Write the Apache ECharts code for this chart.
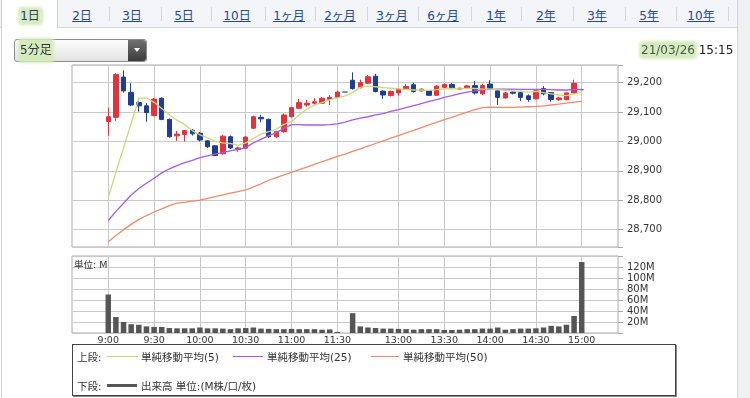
<!DOCTYPE html>
<html>
<head>
<meta charset="utf-8">
<script src="https://cdn.jsdelivr.net/npm/echarts@6/dist/echarts.min.js"></script>
<style>
body { margin: 0; width: 750px; height: 398px; overflow: hidden; position: relative; background: #fff;
  font-family: "DejaVu Sans", "Noto Sans CJK JP", sans-serif; color: #333; }
#side { position: absolute; left: 737px; top: 0; width: 13px; height: 398px; background: #eef0f2; border-left: 1px solid #d4d7db; }
#tabbar { position: absolute; left: 0; top: 0; width: 737px; height: 27px; background: #f3f5f8; border-bottom: 1px solid #cfd3d8; }
#active { position: absolute; left: 1px; top: 0; width: 55px; height: 28px; background: #fff; border-left: 1px solid #cfd3d8; border-right: 1px solid #cfd3d8; }
#leftline { position: absolute; left: 1px; top: 27px; width: 1px; height: 371px; background: #cfd3d8; }
.tab { position: absolute; top: 6px; font-size: 12px; color: #23479a; text-decoration: underline; transform: translateX(-50%); white-space: nowrap; }
.tab.on { color: #2b3a55; text-decoration: none; }
.sep { position: absolute; top: 7px; width: 1px; height: 14px; background: #d3d6db; }
.hl { background: #d5ebbf; box-shadow: 0 0 3px 2px #d5ebbf; border-radius: 2px; }
#chart { position: absolute; left: 0; top: 0; width: 750px; height: 398px; }
#sel { position: absolute; left: 14px; top: 39px; width: 131px; height: 21px; border: 1px solid #8e8e8e; border-radius: 3px;
  background: linear-gradient(#fdfdfd, #e2e2e2); font-size: 12px; line-height: 21px; }
#sel span { position: absolute; left: 5px; top: 0; }
#btn { position: absolute; right: 0; top: 0; width: 18px; height: 21px; background: linear-gradient(#707070, #3c3c3c); border-radius: 0 3px 3px 0; }
#btn:after { content: ""; position: absolute; left: 6px; top: 8px; border-left: 3px solid transparent; border-right: 3px solid transparent; border-top: 4px solid #fff; }
#date { position: absolute; left: 641px; top: 43px; font-size: 12px; color: #222; white-space: nowrap; }
#date .hl { color: #4a5a4a; }
#unit { position: absolute; left: 74px; top: 257px; font-size: 9.5px; color: #333; }
#legend { position: absolute; left: 72px; top: 344px; width: 602px; height: 50px; border: 1px solid #444; box-shadow: 1px 1px 0 #888;
  font-size: 10.5px; color: #333; background: #fff; }
.row { position: absolute; left: 4px; white-space: nowrap; }
.row span { position: absolute; top: 0; }
.ln { position: absolute; height: 0; }
</style>
</head>
<body>
<div id="tabbar"></div>
<div id="active"></div>
<div id="leftline"></div>
<div id="side"></div>
<div id="tabs"></div>
<div id="chart"></div>
<div id="sel"><span class="hl">5分足</span><div id="btn"></div></div>
<div id="date"><span class="hl">21/03/26</span> 15:15</div>
<div id="unit">単位: M</div>
<div id="legend">
  <div class="row" style="top:4px">
    <span style="left:0">上段:</span>
    <div class="ln" style="left:30px;top:7px;width:31px;border-top:1.5px solid #c9da74"></div>
    <span style="left:64px">単純移動平均(5)</span>
    <div class="ln" style="left:156px;top:7px;width:30px;border-top:1.5px solid #a85ae8"></div>
    <span style="left:190px">単純移動平均(25)</span>
    <div class="ln" style="left:294px;top:7px;width:28px;border-top:1.5px solid #f08a6c"></div>
    <span style="left:326px">単純移動平均(50)</span>
  </div>
  <div class="row" style="top:33px">
    <span style="left:0">下段:</span>
    <div class="ln" style="left:30px;top:6px;width:30px;border-top:3px solid #555"></div>
    <span style="left:64px">出来高 単位:(M株/口/枚)</span>
  </div>
</div>
<script>
// 期間タブ
const tabLabels = ['1日', '2日', '3日', '5日', '10日', '1ヶ月', '2ヶ月', '3ヶ月', '6ヶ月', '1年', '2年', '3年', '5年', '10年'];
const tabX = [30, 82, 132, 184, 237, 289, 340, 392, 443, 496, 546, 597, 649, 701];
const sepX = [109, 161, 211, 265, 315, 367, 418, 471, 521, 573, 625, 676, 728];

// 5分足 (slot 31 = 前場引け後の空き枠)
const open = [29068, 29082, 29219, 29167, 29132, 29121, 29088, 29147, 29075, 29019, 29024, 29038, 29028, 29002, 28985, 28958,
  29016, 28972, 28977, 29045, 29082, 29075, 29016, 29033, 29084, 29113, 29124, 29130, 29130, 29143, 29150, 29168,
  29208, 29184, 29198, 29222, 29171, 29156, 29165, 29177, 29193, 29172, 29172, 29157, 29184, 29194, 29178, 29181,
  29190, 29162, 29195, 29172, 29148, 29168, 29166, 29155, 29145, 29180, 29166, 29142, 29142, 29165, 29176];
const close = [29084, 29228, 29172, 29124, 29121, 29098, 29144, 29075, 29016, 29025, 29037, 29026, 29005, 28982, 28952, 29018,
  28978, 28978, 29015, 29084, 29077, 29016, 29033, 29090, 29115, 29132, 29130, 29135, 29147, 29150, 29168, 29168,
  29180, 29200, 29220, 29170, 29158, 29170, 29178, 29187, 29170, 29178, 29157, 29188, 29194, 29181, 29181, 29189,
  29165, 29190, 29181, 29150, 29165, 29164, 29150, 29143, 29172, 29162, 29143, 29148, 29165, 29198, 29176];
const low = [29020, 29070, 29166, 29120, 29101, 29067, 29085, 29072, 29013, 29002, 29000, 29020, 29000, 28978, 28950, 28955,
  28974, 28965, 28975, 29042, 29065, 29012, 29012, 29030, 29082, 29110, 29118, 29124, 29128, 29124, 29148, 29168,
  29176, 29180, 29195, 29167, 29145, 29153, 29155, 29175, 29166, 29170, 29155, 29155, 29181, 29178, 29176, 29178,
  29160, 29158, 29177, 29125, 29145, 29160, 29138, 29135, 29143, 29157, 29135, 29138, 29140, 29162, 29176];
const high = [29115, 29232, 29242, 29198, 29141, 29130, 29148, 29150, 29078, 29036, 29039, 29042, 29032, 29005, 28988, 29022,
  29020, 28982, 29018, 29088, 29090, 29078, 29036, 29095, 29118, 29145, 29141, 29147, 29152, 29158, 29172, 29168,
  29235, 29210, 29226, 29230, 29175, 29173, 29181, 29195, 29200, 29180, 29175, 29192, 29197, 29198, 29183, 29192,
  29205, 29196, 29208, 29176, 29168, 29170, 29172, 29160, 29175, 29188, 29168, 29152, 29167, 29210, 29176];
const ma5 = [28810, 28895, 28978, 29062, 29146, 29148, 29133, 29112, 29091, 29072, 29058, 29037, 29022, 29012, 29000, 28995,
  28993, 28987, 28995, 29010, 29025, 29033, 29042, 29058, 29068, 29090, 29110, 29124, 29132, 29141, 29148, 29155,
  29166, 29184, 29188, 29186, 29183, 29181, 29179, 29177, 29175, 29175, 29174, 29176, 29179, 29180, 29179, 29180,
  29180, 29178, 29178, 29176, 29174, 29172, 29170, 29168, 29170, 29166, 29162, 29158, 29156, 29162, 29168];
const ma25 = [28731, 28762, 28790, 28818, 28840, 28858, 28875, 28893, 28907, 28918, 28928, 28936, 28945, 28951, 28957, 28963,
  28968, 28973, 28979, 28995, 29007, 29020, 29030, 29045, 29057, 29057, 29056, 29056, 29056, 29057, 29060, 29066,
  29073, 29079, 29084, 29090, 29095, 29102, 29108, 29115, 29122, 29129, 29136, 29142, 29150, 29156, 29163, 29168,
  29172, 29175, 29177, 29178, 29178, 29178, 29177, 29177, 29177, 29177, 29176, 29175, 29175, 29176, 29177];
const ma50 = [28659, 28680, 28700, 28718, 28735, 28748, 28760, 28771, 28782, 28790, 28793, 28797, 28800, 28806, 28812, 28818,
  28824, 28829, 28835, 28845, 28856, 28868, 28877, 28886, 28895, 28904, 28913, 28922, 28931, 28940, 28949, 28957,
  28966, 28975, 28984, 28993, 29002, 29011, 29020, 29029, 29038, 29047, 29056, 29065, 29074, 29082, 29091, 29100,
  29108, 29115, 29117, 29116, 29116, 29116, 29117, 29118, 29119, 29121, 29124, 29127, 29130, 29134, 29136];
const volume = [70, 29, 20, 16, 15, 12, 11, 11, 9, 8.5, 8.5, 8.5, 10, 8.5, 8.5, 8, 7, 8.5, 9, 10, 8, 7.5, 7, 7, 7.5, 7, 7, 7, 6, 6.5, 2, '-',
  36, 12, 10, 9, 8, 8, 7.5, 7, 6, 7, 7, 7, 5.5, 5.5, 6, 7, 7, 8, 8, 10, 6, 7, 8, 8, 8.5, 10, 13, 12, 15, 31, 129];

// 時間軸ラベル
const tickLabels = ['9:00', '9:30', '10:00', '10:30', '11:00', '11:30', '13:00', '13:30', '14:00', '14:30', '15:00'];
const tickSlots = [0, 6, 12, 18, 24, 30, 38, 44, 50, 56, 62];

const RED = '#e5303d', BLUE = '#1f3d92';

document.getElementById('tabs').innerHTML =
  tabLabels.map((t, i) => `<div class="tab${i === 0 ? ' on' : ''}" style="left:${tabX[i]}px">${i === 0 ? '<span class="hl">' + t + '</span>' : t}</div>`).join('') +
  sepX.map((x) => `<div class="sep" style="left:${x}px"></div>`).join('');

// 半スロット単位のカテゴリ軸 (前後に余白)
const PAD = 9, N = PAD * 2 + (open.length - 1) * 2 + 1;
const pos = (i) => PAD + i * 2;
const cats = new Array(N).fill('');
tickSlots.forEach((s, k) => { cats[pos(s)] = tickLabels[k]; });
const tickIdx = new Set(tickSlots.map(pos));
const spread = (arr) => {
  const out = new Array(N).fill('-');
  arr.forEach((v, i) => { out[pos(i)] = v; });
  return out;
};
const candle = new Array(N).fill(['-', '-', '-', '-']);
open.forEach((o, i) => { candle[pos(i)] = [o, close[i], low[i], high[i]]; });

const showTick = (idx) => tickIdx.has(idx);
const gridLine = { show: true, lineStyle: { color: '#c9c9c9', width: 1 } };

const chart = echarts.init(document.getElementById('chart'));
chart.setOption({
  animation: false,
  grid: [
    { left: 72, top: 65, width: 546, height: 182, show: true, borderColor: '#aaa', borderWidth: 1 },
    { left: 72, top: 256, width: 546, height: 77, show: true, borderColor: '#aaa', borderWidth: 1 }
  ],
  xAxis: [
    { type: 'category', gridIndex: 0, data: cats, boundaryGap: true,
      axisLine: { show: false }, axisTick: { show: false }, axisLabel: { show: false },
      splitLine: { ...gridLine, interval: showTick, alignWithLabel: true } },
    { type: 'category', gridIndex: 1, data: cats, boundaryGap: true,
      axisLine: { show: false }, axisTick: { show: false },
      axisLabel: { interval: showTick, fontSize: 9.5, color: '#333', margin: 3, fontFamily: 'DejaVu Sans' },
      splitLine: { ...gridLine, interval: showTick, alignWithLabel: true } }
  ],
  yAxis: [
    { type: 'value', gridIndex: 0, position: 'right', min: 28641, max: 29260, splitNumber: 6,
      axisLine: { show: false }, axisTick: { show: true, length: 5, lineStyle: { color: '#aaa' } },
      axisLabel: { margin: 9, fontSize: 10, color: '#333', fontFamily: 'DejaVu Sans',
        formatter: (v) => (v % 100 === 0 ? v.toLocaleString('en-US') : '') },
      splitLine: gridLine },
    { type: 'value', gridIndex: 1, position: 'right', min: 0, max: 140, interval: 20,
      axisLine: { show: false }, axisTick: { show: true, length: 5, lineStyle: { color: '#aaa' } },
      axisLabel: { margin: 9, fontSize: 10, color: '#333', fontFamily: 'DejaVu Sans',
        formatter: (v) => (v === 0 || v === 140 ? '' : v + 'M') },
      splitLine: gridLine }
  ],
  series: [
    { type: 'candlestick', xAxisIndex: 0, yAxisIndex: 0, barWidth: 5, data: candle,
      itemStyle: { color: RED, color0: BLUE, borderColor: RED, borderColor0: BLUE, borderColorDoji: '#4466bb', borderWidth: 1 } },
    { type: 'line', xAxisIndex: 0, yAxisIndex: 0, data: spread(ma50), connectNulls: true, symbol: 'none',
      lineStyle: { color: '#f08a6c', width: 1.3 } },
    { type: 'line', xAxisIndex: 0, yAxisIndex: 0, data: spread(ma25), connectNulls: true, symbol: 'none',
      lineStyle: { color: '#a85ae8', width: 1.3 } },
    { type: 'line', xAxisIndex: 0, yAxisIndex: 0, data: spread(ma5), connectNulls: true, symbol: 'none',
      lineStyle: { color: '#c9da74', width: 1.3 } },
    { type: 'bar', xAxisIndex: 1, yAxisIndex: 1, barWidth: 5.5, data: spread(volume),
      itemStyle: { color: '#555' } }
  ]
});
</script>
</body>
</html>
